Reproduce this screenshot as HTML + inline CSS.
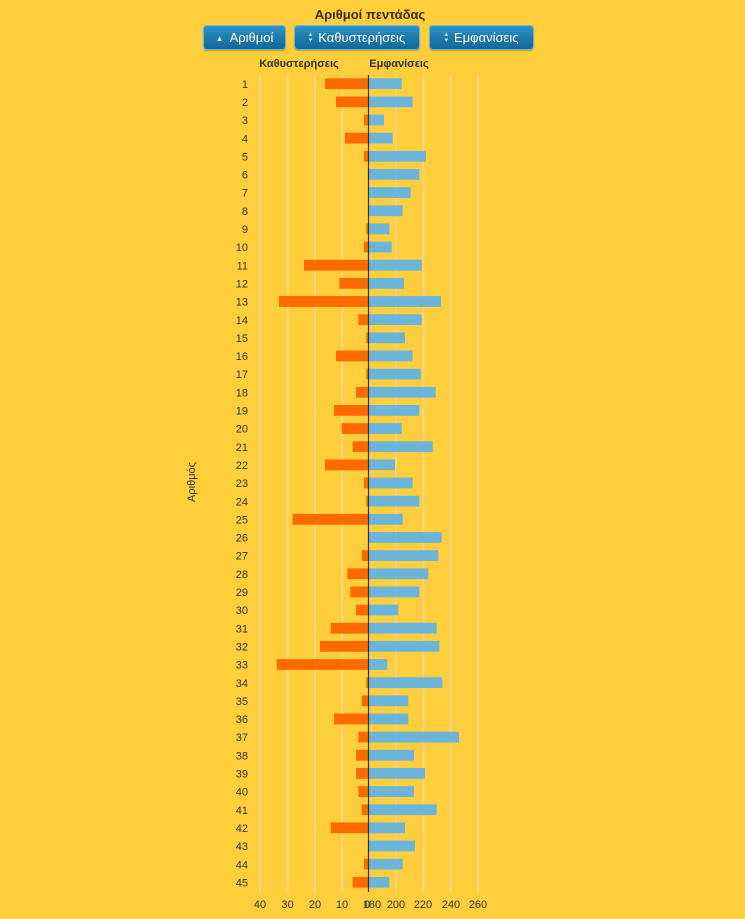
<!DOCTYPE html>
<html>
<head>
<meta charset="utf-8">
<style>
  html,body{margin:0;padding:0;}
  body{width:745px;height:919px;background:#FFCE3C;position:relative;overflow:hidden;font-family:"Liberation Sans",Arial,sans-serif;color:#333;}
  .title{position:absolute;left:0;width:740px;top:7px;text-align:center;font-weight:bold;font-size:13px;color:#3a2e12;}
  .btn{position:absolute;top:25px;height:25px;border-radius:4px;background:linear-gradient(#2f95c8,#1c77ab 55%,#15679a);box-shadow:0 0 0 1px #6fb6dc inset,0 1px 1px rgba(0,0,0,0.25);color:#fff;font-size:13px;line-height:25px;text-align:center;white-space:nowrap;}
  .btn .ic{font-size:8px;display:inline-block;vertical-align:1px;margin-right:6px;color:#d6ecf8;}
</style>
</head>
<body>
<div class="title">Αριθμοί πεντάδας</div>
<div class="btn" style="left:203px;width:83px;"><span class="ic">▲</span>Αριθμοί</div>
<div class="btn" style="left:294px;width:126px;"><span class="ic" style="font-size:7px;line-height:6px;display:inline-block;vertical-align:0px;">▴<br>▾</span>Καθυστερήσεις</div>
<div class="btn" style="left:429px;width:105px;"><span class="ic" style="font-size:7px;line-height:6px;display:inline-block;vertical-align:0px;">▴<br>▾</span>Εμφανίσεις</div>

<svg width="745" height="919" style="position:absolute;left:0;top:0;" xmlns="http://www.w3.org/2000/svg" font-family="Liberation Sans, Arial, sans-serif">
  <g stroke="#F3D582" stroke-width="2">
    <line x1="260" y1="75" x2="260" y2="892"/>
    <line x1="287.5" y1="75" x2="287.5" y2="892"/>
    <line x1="315" y1="75" x2="315" y2="892"/>
    <line x1="342.3" y1="75" x2="342.3" y2="892"/>
    <line x1="395.8" y1="75" x2="395.8" y2="892"/>
    <line x1="423.3" y1="75" x2="423.3" y2="892"/>
    <line x1="450.7" y1="75" x2="450.7" y2="892"/>
    <line x1="478.2" y1="75" x2="478.2" y2="892"/>
  </g>
  <text x="299" y="67" font-size="11" font-weight="bold" fill="#333" text-anchor="middle">Καθυστερήσεις</text>
  <text x="399" y="67" font-size="11" font-weight="bold" fill="#333" text-anchor="middle">Εμφανίσεις</text>
  <text transform="translate(195,482) rotate(-90)" font-size="11" fill="#333" text-anchor="middle">Αριθμός</text>
  <g id="bars"></g>
  <g id="labels" font-size="11" fill="#333" text-anchor="end"></g>
  <line x1="368.5" y1="75" x2="368.5" y2="892" stroke="#333" stroke-width="1.2"/>
  <g font-size="11" fill="#333" text-anchor="middle">
    <text x="260" y="908">40</text>
    <text x="287.5" y="908">30</text>
    <text x="315" y="908">20</text>
    <text x="342" y="908">10</text>
    <text x="367" y="908">0</text>
    <text x="372" y="908">180</text>
    <text x="396" y="908">200</text>
    <text x="423" y="908">220</text>
    <text x="451" y="908">240</text>
    <text x="478" y="908">260</text>
  </g>
</svg>
<script>
(function(){
  var d=[[325,401.7],[336,412.7],[364,384],[345,392.7],[364,426],[null,419.3],[null,410.7],[null,402.7],[366.3,389.3],[364,391.7],
  [304,421.7],[339.3,404],[279,441],[358.3,421.7],[366.3,405],[336,412.7],[366.3,420.7],[356,435.7],[334,419.3],[341.7,401.7],
  [352.7,432.7],[325,395],[364,412.7],[366.3,419.3],[292.7,402.7],[null,441.7],[361.7,438.3],[347.3,428.3],[350.3,419.3],[356,398.3],
  [330.7,436.7],[320,439.3],[276.7,387.3],[366.3,442.3],[361.7,408.3],[334,408.3],[358.3,459],[356,414],[356,425],[358.3,414],
  [361.7,436.7],[330.7,405],[null,415],[364,402.7],[352.7,389.3]];
  var ns="http://www.w3.org/2000/svg",bars=document.getElementById("bars"),labels=document.getElementById("labels");
  var ax=368.5;
  for(var i=0;i<d.length;i++){
    var y=78.3+i*18.15;
    if(d[i][0]!==null){
      var r=document.createElementNS(ns,"rect");
      r.setAttribute("x",d[i][0]);r.setAttribute("y",y);
      r.setAttribute("width",ax-d[i][0]);r.setAttribute("height",10.8);
      r.setAttribute("fill","#FF6A00");bars.appendChild(r);
    }
    var b=document.createElementNS(ns,"rect");
    b.setAttribute("x",ax);b.setAttribute("y",y);
    b.setAttribute("width",d[i][1]-ax);b.setAttribute("height",10.8);
    b.setAttribute("fill","#6BB4DA");bars.appendChild(b);
    var t=document.createElementNS(ns,"text");
    t.setAttribute("x",248);t.setAttribute("y",y+9.5);
    t.textContent=String(i+1);labels.appendChild(t);
  }
})();
</script>
</body>
</html>
